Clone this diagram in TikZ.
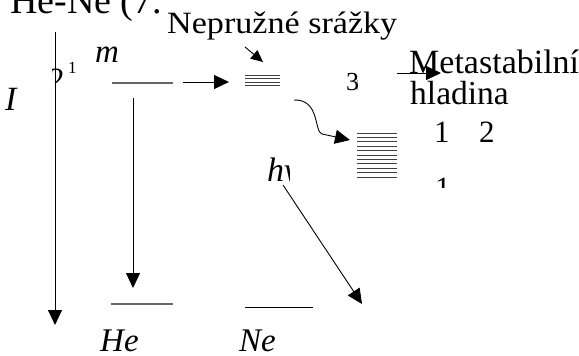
\documentclass[tikz,border=0pt]{standalone}
\usepackage{fontspec}
\setmainfont{Liberation Serif}
\usetikzlibrary{arrows.meta}
\begin{document}
\begin{tikzpicture}[x=1pt,y=-1pt,
  lvl/.style={draw=black!60, line width=1.4pt},
  thin/.style={draw=black, line width=1pt},
  arr/.style={draw, line width=0.9pt, -{Triangle[width=14pt,length=15pt]}},
  sarr/.style={draw, line width=0.9pt, -{Triangle[width=11pt,length=12pt]}},
  txt/.style={inner sep=0pt, anchor=base west},
  f/.style={font=\fontsize{#1}{#1}\selectfont},
  fi/.style={font=\fontsize{#1}{#1}\selectfont\itshape}]
\useasboundingbox (0,0) rectangle (579,356);

% texts
\node[txt,f=38] (title) at (10,13) {He-Ne (7.};
\node[txt,f=31] (nepr) at (167,33) {\scalebox{1.1}[1]{Nepružné srážky}};
\node[txt,fi=33] (m) at (95,62) {m};
\begin{scope}
  \clip (52.5,55) rectangle (66,82);
  \node[txt,f=31] (two) at (49,89) {2};
\end{scope}
\node[txt,f=17] (sup) at (68,73) {1};
\node[txt,fi=34] (E) at (5,110) {I};
\begin{scope}
  \clip (340,60) rectangle (357.5,100);
  \node[txt,f=26] (threes) at (346,90) {3\kern-2.5pt s};
\end{scope}
\node[txt,f=34] (meta) at (409,73) {Metastabilní};
\node[txt,f=33.5] (hlad) at (410,104) {hladina};
\node[txt,f=31] (one) at (434,142) {1};
\begin{scope}
  \clip (470,110) rectangle (494,150);
  \node[txt,f=31] (twos) at (479,142) {2s};
\end{scope}
\begin{scope}
  \clip (425,170) rectangle (450,187);
  \node[txt,f=31] (onelow) at (435,198) {1};
\end{scope}
\begin{scope}
  \clip (260,150) rectangle (289,190);
  \node[txt,fi=34] (hnu) at (267,181) {hν};
\end{scope}
\node[txt,fi=33] (He) at (100,351) {He};
\node[txt,fi=33] (Ne) at (239,351) {Ne};

% coordinates
\coordinate (Ltop) at (55,32);
\coordinate (Lbot) at (55,325);
\coordinate (HeUa) at (112,83);
\coordinate (HeUb) at (173,83);
\coordinate (HaS) at (183,82);
\coordinate (HaE) at (229,82);
\coordinate (NsS) at (245,47);
\coordinate (NsE) at (263,62);
\coordinate (MaS) at (397,73);
\coordinate (MaE) at (441,73);
\coordinate (CuS) at (294,100);
\coordinate (CuE) at (350,140);
\coordinate (DgS) at (283,185);
\coordinate (DgE) at (362,304);
\coordinate (HvS) at (133,98);
\coordinate (HvE) at (133,288);
\coordinate (HeLa) at (111,304);
\coordinate (HeLb) at (173,304);
\coordinate (NeLa) at (245,307);
\coordinate (NeLb) at (313,307);

% levels
\draw[lvl] (HeUa) -- (HeUb);
\draw[lvl] (HeLa) -- (HeLb);
\draw[thin] (NeLa) -- (NeLb);
\foreach \i in {0,...,3} {
  \draw[black!75, line width=0.9pt] (245,{75+\i*3.6}) -- (280,{75+\i*3.6});
}
\foreach \i in {0,...,10} {
  \draw[black!75, line width=0.9pt] (357,{133+\i*4.4}) -- (397,{133+\i*4.4});
}

% arrows
\draw[arr] (Ltop) -- (Lbot);
\draw[arr] (HvS) -- (HvE);
\draw[arr] (HaS) -- (HaE);
\draw[sarr] (NsS) -- (NsE);
\draw[arr] (MaS) -- (MaE);
\draw[arr] (CuS) .. controls (320,99) and (314,132) .. (322,134) -- (CuE);
\draw[arr] (DgS) -- (DgE);
\end{tikzpicture}
\end{document}
